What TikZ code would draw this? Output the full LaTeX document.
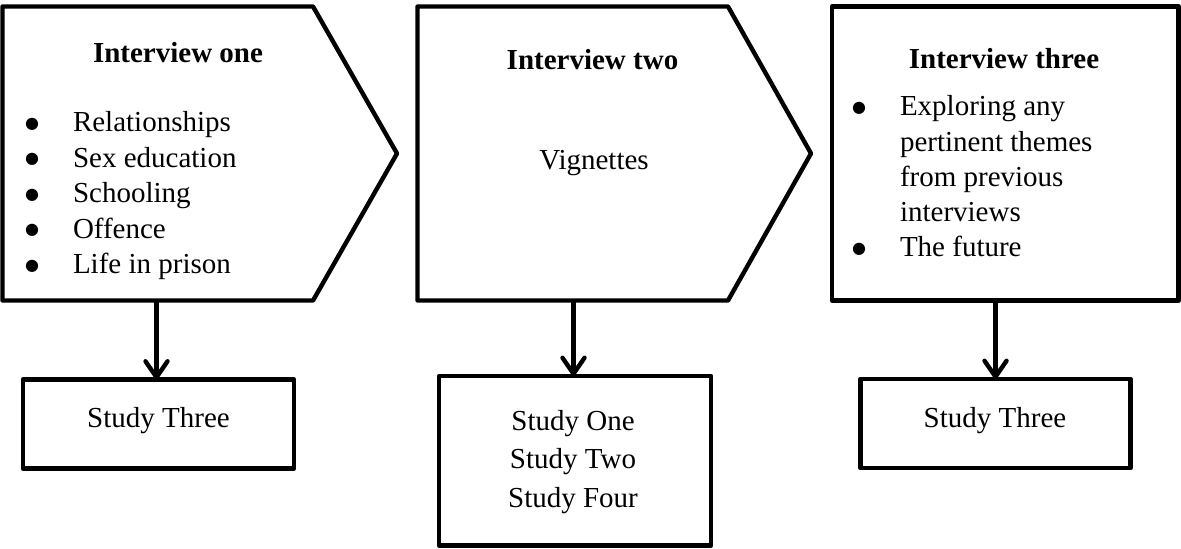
\documentclass[tikz,border=0pt]{standalone}
\usepackage{fontspec}
\setmainfont{Liberation Serif}
\newfontfamily\symfont{DejaVu Sans}
\usetikzlibrary{arrows.meta,fit}
\newcommand\fsz{\fontsize{14.5pt}{17.4pt}\selectfont}
\newcommand\bigbul{{\symfont\fontsize{8pt}{10pt}\selectfont\raisebox{1.8pt}{●}}}
\begin{document}
\begin{tikzpicture}[x=0.5pt,y=-0.5pt,
  every node/.style={font=\fsz, inner sep=0pt, outer sep=0pt},
  outl/.style={draw=black, line width=2.2pt, line join=round},
  ttl/.style={anchor=base, font=\fsz\bfseries},
  itm/.style={anchor=base west},
  bul/.style={anchor=base},
  lbl/.style={anchor=base},
  arr/.style={draw=black, line width=2.2pt, -{Straight Barb[length=8pt,width=11pt,round]}}
]
\useasboundingbox (0,0) rectangle (1181,549);

% panels
\draw[outl] (2.5,6.5) -- (313,6.5) -- (397,153.5) -- (313,300.5) -- (2.5,300.5) -- cycle;
\node[fit={(2.5,6.5) (397,300.5)}] (p1) {};
\draw[outl] (417.5,6.5) -- (728,6.5) -- (811,153.5) -- (728,300.5) -- (417.5,300.5) -- cycle;
\node[fit={(417.5,6.5) (811,300.5)}] (p2) {};
\node[outl, fit={(832,6.5) (1178.5,300.5)}] (p3) {};

% titles
\node[ttl] (h1) at (178,62.5) {Interview one};
\node[ttl] (h2) at (592.5,70) {Interview two};
\node[ttl] (h3) at (1004,69) {Interview three};

% panel 1 list
\node[bul] (l1b) at (32,132) {\bigbul};   \node[itm] (l1) at (73,132) {Relationships};
\node[bul] (l2b) at (32,167.5) {\bigbul}; \node[itm] (l2) at (73,167.5) {Sex education};
\node[bul] (l3b) at (32,203) {\bigbul};   \node[itm] (l3) at (73,203) {Schooling};
\node[bul] (l4b) at (32,238.5) {\bigbul}; \node[itm] (l4) at (73,238.5) {Offence};
\node[bul] (l5b) at (32,274) {\bigbul};   \node[itm] (l5) at (73,274) {Life in prison};

% panel 2
\node[lbl] (v2) at (594,169.5) {Vignettes};

% panel 3 list
\node[bul] (r1b) at (859,116) {\bigbul}; \node[itm] (r1) at (900,116) {Exploring any};
\node[itm] (r2) at (900,151.25) {pertinent themes};
\node[itm] (r3) at (900,186.5) {from previous};
\node[itm] (r4) at (900,221.75) {interviews};
\node[bul] (r5b) at (859,257) {\bigbul}; \node[itm] (r5) at (900,257) {The future};

% study boxes
\node[outl, fit={(23,379.5) (294,468.5)}] (b1) {};
\node[lbl] (s1) at (158.5,428) {Study Three};
\node[outl, fit={(439,376) (711,545.5)}] (b2) {};
\node[lbl] (s2a) at (573,430) {Study One};
\node[lbl] (s2b) at (573,468.5) {Study Two};
\node[lbl] (s2c) at (573,507) {Study Four};
\node[outl, fit={(860.5,379) (1130.5,468)}] (b3) {};
\node[lbl] (s3) at (995,427) {Study Three};

% arrows
\coordinate (a1) at (156.5,300.5);
\coordinate (a2) at (573.5,300.5);
\coordinate (a3) at (995.5,300.5);
\draw[arr] (a1) -- (a1 |- b1.north);
\draw[arr] (a2) -- (a2 |- b2.north);
\draw[arr] (a3) -- (a3 |- b3.north);
\end{tikzpicture}
\end{document}
